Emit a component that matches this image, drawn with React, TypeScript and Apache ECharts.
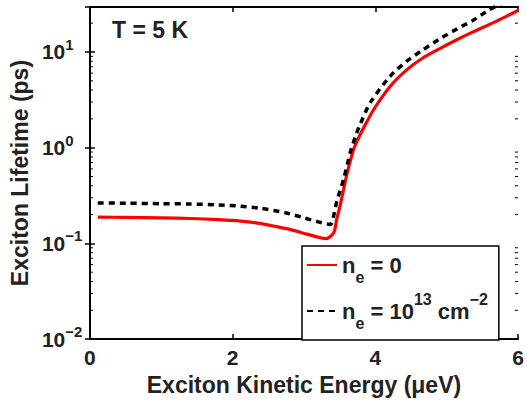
import React, { useEffect, useRef } from "react";
import * as echarts from "echarts";

// Data
const ENERGY_RED = [0.11, 0.5, 1.0, 1.41, 1.8, 2.11, 2.4, 2.57, 2.8, 3.04, 3.2, 3.3, 3.35, 3.42, 3.46, 3.51, 3.6, 3.7, 3.77, 3.84, 3.98, 4.21, 4.44, 4.65, 4.91, 5.15, 5.37, 5.7, 6.0];
const LIFETIME_RED = [0.188, 0.187, 0.185, 0.182, 0.177, 0.171, 0.161, 0.152, 0.14, 0.125, 0.116, 0.112, 0.115, 0.13, 0.18, 0.254, 0.52, 0.98, 1.29, 1.63, 2.52, 4.39, 6.5, 8.5, 10.9, 13.5, 16.2, 21, 27.1];

const ENERGY_DASH = [0.11, 0.5, 1.0, 1.41, 1.8, 2.11, 2.4, 2.74, 3.0, 3.2, 3.37, 3.42, 3.46, 3.56, 3.65, 3.72, 3.79, 3.93, 4.21, 4.44, 4.65, 4.91, 5.15, 5.37, 5.58, 5.8];
const LIFETIME_DASH = [0.265, 0.263, 0.26, 0.258, 0.252, 0.245, 0.232, 0.209, 0.185, 0.168, 0.158, 0.2, 0.275, 0.48, 0.9, 1.3, 1.77, 2.96, 5.6, 8.0, 10.3, 13.8, 17.5, 21.4, 27.1, 33];

const X_MIN = 0;
const X_MAX = 6;
const X_INTERVAL = 2;
const Y_MIN = 0.01;
const Y_MAX = 29.5;
const MINOR_TICKS = [0.02, 0.03, 0.04, 0.05, 0.06, 0.07, 0.08, 0.09, 0.2, 0.3, 0.4, 0.5, 0.6, 0.7, 0.8, 0.9, 2, 3, 4, 5, 6, 7, 8, 9, 20];

const SERIES_NAMES = ["ne0", "ne13"];
const LEGEND_LABELS: Record<string, string> = {
  ne0: "{b|n}{sub|e}{b| = 0}",
  ne13: "{b|n}{sub|e}{b| = 10}{sup|13}{b| cm}{sup|\u22122}",
};
const TITLE_TEXT = "T = 5 K";
const X_NAME = "Exciton Kinetic Energy (\u03bceV)";
const Y_NAME = "Exciton Lifetime (ps)";

const FONT = "Liberation Sans";
const TEXT_COLOR = "#222";

export default function App() {
  const ref = useRef<HTMLDivElement>(null);
  useEffect(() => {
    if (!ref.current) return;
    const chart = echarts.init(ref.current, undefined, { renderer: "svg" });
    const supLabel = (v: number) => {
      const e = Math.log10(v);
      if (Math.abs(e - Math.round(e)) > 1e-6) return "";
      const n = Math.round(e);
      return "{b|10}{s|" + (n < 0 ? "\u2212" + -n : String(n)) + "}";
    };
    const axisLineStyle = { color: "#000", width: 2 };
    const option: any = {
      animation: false,
      backgroundColor: "#fff",
      textStyle: { fontFamily: FONT, fontWeight: "bold", color: TEXT_COLOR },
      grid: { left: 89, right: 9, top: 7, bottom: 58, containLabel: false },
      xAxis: [
        {
          type: "value",
          min: X_MIN,
          max: X_MAX,
          interval: X_INTERVAL,
          position: "bottom",
          name: X_NAME,
          nameLocation: "middle",
          nameGap: 26,
          nameTextStyle: { fontFamily: FONT, fontWeight: "bold", fontSize: 23, color: TEXT_COLOR },
          axisLine: { show: true, lineStyle: axisLineStyle },
          axisTick: { show: true, inside: true, length: 5, lineStyle: { color: "#000", width: 1.5 } },
          axisLabel: { fontFamily: FONT, fontWeight: "bold", fontSize: 21, color: TEXT_COLOR, margin: 8 },
          splitLine: { show: false },
        },
        {
          type: "value",
          min: X_MIN,
          max: X_MAX,
          interval: X_INTERVAL,
          position: "top",
          axisLine: { show: true, lineStyle: axisLineStyle },
          axisTick: { show: true, inside: true, length: 5, lineStyle: { color: "#000", width: 1.5 } },
          axisLabel: { show: false },
          splitLine: { show: false },
        },
      ],
      yAxis: [
        {
          type: "log",
          logBase: 10,
          min: Y_MIN,
          max: Y_MAX,
          position: "left",
          name: Y_NAME,
          nameLocation: "middle",
          nameGap: 53,
          nameTextStyle: { fontFamily: FONT, fontWeight: "bold", fontSize: 23, color: TEXT_COLOR },
          axisLine: { show: true, lineStyle: axisLineStyle },
          axisTick: { show: true, inside: true, length: 5, lineStyle: { color: "#000", width: 1.5 } },
          axisLabel: {
            formatter: supLabel,
            align: "left",
            margin: 48,
            rich: {
              b: { fontFamily: FONT, fontWeight: "bold", fontSize: 21, color: TEXT_COLOR, lineHeight: 30, verticalAlign: "middle" },
              s: { fontFamily: FONT, fontWeight: "bold", fontSize: 15, color: TEXT_COLOR, lineHeight: 12, verticalAlign: "top" },
            },
          },
          splitLine: { show: false },
        },
        {
          type: "log",
          logBase: 10,
          min: Y_MIN,
          max: Y_MAX,
          position: "right",
          axisLine: { show: true, lineStyle: axisLineStyle },
          axisTick: { show: true, inside: true, length: 5, lineStyle: { color: "#000", width: 1.5 } },
          axisLabel: { show: false },
          splitLine: { show: false },
        },
      ],
      legend: {
        data: SERIES_NAMES,
        orient: "vertical",
        left: 302,
        top: 246,
        selectedMode: false,
        backgroundColor: "#fff",
        borderColor: "#000",
        borderWidth: 1.5,
        borderRadius: 0,
        padding: [8, 11, 9, 4],
        itemGap: 6,
        itemWidth: 30,
        itemHeight: 14,
        itemStyle: { opacity: 0 },
        formatter: (name: string) => LEGEND_LABELS[name],
        textStyle: {
          fontFamily: FONT,
          fontWeight: "bold",
          color: TEXT_COLOR,
          rich: {
            b: { fontFamily: FONT, fontWeight: "bold", fontSize: 22, color: TEXT_COLOR, lineHeight: 40, verticalAlign: "middle" },
            sub: { fontFamily: FONT, fontWeight: "bold", fontSize: 16, color: TEXT_COLOR, lineHeight: 15, verticalAlign: "bottom" },
            sup: { fontFamily: FONT, fontWeight: "bold", fontSize: 16, color: TEXT_COLOR, lineHeight: 24, verticalAlign: "top" },
          },
        },
      },
      graphic: [
        {
          type: "text",
          left: 112,
          top: 18,
          style: { text: TITLE_TEXT, fontFamily: FONT, fontWeight: "bold", fontSize: 23, fill: TEXT_COLOR },
        },
      ],
      series: [
        {
          name: "minor",
          type: "custom",
          xAxisIndex: 0,
          yAxisIndex: 0,
          silent: true,
          data: MINOR_TICKS.map((v) => [X_MIN, v]),
          renderItem: (params: any, api: any) => {
            const v = api.value(1);
            const pl = api.coord([X_MIN, v]);
            const pr = api.coord([X_MAX, v]);
            return {
              type: "group",
              children: [
                { type: "line", shape: { x1: pl[0], y1: pl[1], x2: pl[0] + 3, y2: pl[1] }, style: { stroke: "#000", lineWidth: 1 } },
                { type: "line", shape: { x1: pr[0] - 3, y1: pr[1], x2: pr[0], y2: pr[1] }, style: { stroke: "#000", lineWidth: 1 } },
              ],
            };
          },
          z: 1,
        },
        {
          name: "ne13",
          type: "line",
          data: ENERGY_DASH.map((x, i) => [x, LIFETIME_DASH[i]]),
          showSymbol: false,
          symbol: "none",
          smooth: 0.25,
          lineStyle: { color: "#000", width: 3.5, type: [6, 5] },
          itemStyle: { color: "#000" },
          clip: true,
          z: 3,
        },
        {
          name: "ne0",
          type: "line",
          data: ENERGY_RED.map((x, i) => [x, LIFETIME_RED[i]]),
          showSymbol: false,
          symbol: "none",
          smooth: 0.25,
          lineStyle: { color: "#ff0000", width: 3.2 },
          itemStyle: { color: "#ff0000" },
          clip: true,
          z: 2,
        },
      ],
    };
    chart.setOption(option);
    return () => chart.dispose();
  }, []);
  return <div ref={ref} style={{ width: 527, height: 401, position: "absolute", left: 0, top: 0 }} />;
}
